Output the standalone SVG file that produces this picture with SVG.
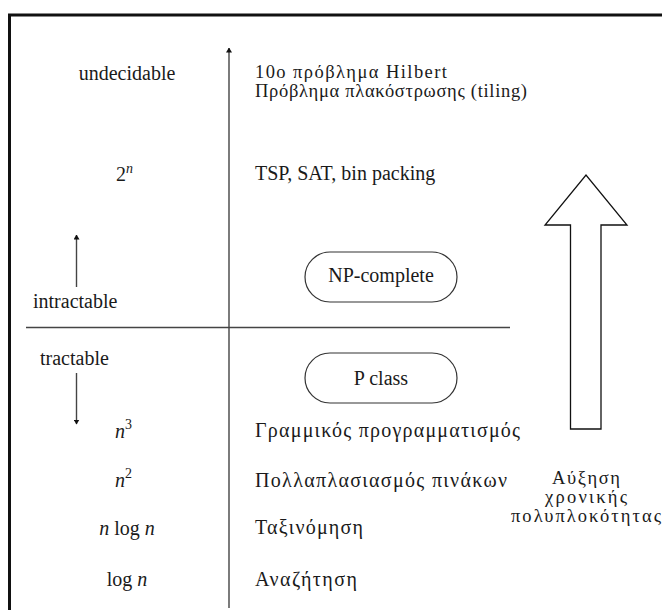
<svg xmlns="http://www.w3.org/2000/svg" width="662" height="610" viewBox="0 0 662 610" font-family="'Liberation Serif', 'DejaVu Serif', 'Times New Roman', serif">
  <style>
    text { font-family: "Liberation Serif", "DejaVu Serif", "Times New Roman", serif; font-size: 20px; fill: #1a1a1a; }
    .mid { text-anchor: middle; }
    .it { font-style: italic; }
    .sup { font-size: 14px; }
    .tight { font-size: 18.5px; }
    .axis { stroke: #444; stroke-width: 1.4; fill: none; }
    .pill { fill: #fff; stroke: #333; stroke-width: 1.2; }
  </style>
  <defs>
    <marker id="tip" viewBox="0 0 10 10" refX="9" refY="5" markerWidth="5" markerHeight="6" markerUnits="userSpaceOnUse" orient="auto" preserveAspectRatio="none">
      <path d="M0,0 L10,5 L0,10 Z" fill="#111"/>
    </marker>
  </defs>

  <rect width="662" height="610" fill="#fff"/>

  <!-- frame: top and left edges only -->
  <path d="M9.5,620 V15 H670" fill="none" stroke="#111" stroke-width="3"/>

  <!-- connectors: complexity axis, divider, tractability hints -->
  <g id="connectors">
    <line class="axis" x1="229" y1="608" x2="229" y2="48" marker-end="url(#tip)"/>
    <line class="axis" x1="26" y1="327.5" x2="510" y2="327.5"/>
    <line class="axis" x1="76.5" y1="287" x2="76.5" y2="235" marker-end="url(#tip)"/>
    <line class="axis" x1="76.5" y1="373" x2="76.5" y2="424" marker-end="url(#tip)"/>
  </g>

  <!-- growth arrow -->
  <g id="growth-arrow">
    <path d="M570.5,429 V225 H545 L586,175 L627,225 H601 V429 Z" fill="#fff" stroke="#111" stroke-width="1.3" stroke-linejoin="miter"/>
    <text class="mid tight" x="586" y="484" textLength="68" lengthAdjust="spacing">Αύξηση</text>
    <text class="mid tight" x="586" y="503" textLength="82" lengthAdjust="spacing">χρονικής</text>
    <text class="mid tight" x="586" y="522" textLength="150" lengthAdjust="spacing">πολυπλοκότητας</text>
  </g>

  <!-- complexity levels (left column) -->
  <g id="undecidable"><text class="mid" x="127" y="80">undecidable</text></g>
  <g id="exp"><text x="116" y="181">2<tspan class="it sup" dy="-8">n</tspan></text></g>
  <g id="intractable"><text x="33" y="308">intractable</text></g>
  <g id="tractable"><text x="40" y="365">tractable</text></g>
  <g id="cubic"><text x="115" y="438"><tspan class="it">n</tspan><tspan class="sup" dy="-9">3</tspan></text></g>
  <g id="quadratic"><text x="115" y="487"><tspan class="it">n</tspan><tspan class="sup" dy="-9">2</tspan></text></g>
  <g id="nlogn"><text class="mid" x="127" y="535"><tspan class="it">n</tspan> log <tspan class="it">n</tspan></text></g>
  <g id="logn"><text class="mid" x="127" y="586">log <tspan class="it">n</tspan></text></g>

  <!-- example problems (right column) -->
  <g id="undecidable-examples">
    <text class="tight" x="255" y="78" textLength="192" lengthAdjust="spacing">10ο πρόβλημα Hilbert</text>
    <text class="tight" x="255" y="97" textLength="272" lengthAdjust="spacing">Πρόβλημα πλακόστρωσης (tiling)</text>
  </g>
  <g id="exp-examples"><text x="255" y="180">TSP, SAT, bin packing</text></g>
  <g id="np-complete">
    <rect class="pill" x="305" y="252" width="152" height="50" rx="25"/>
    <text class="mid" x="381" y="282">NP-complete</text>
  </g>
  <g id="p-class">
    <rect class="pill" x="305" y="353" width="152" height="50" rx="25"/>
    <text class="mid" x="381" y="385">P class</text>
  </g>
  <g id="cubic-example"><text x="255" y="437" textLength="265" lengthAdjust="spacing">Γραμμικός προγραμματισμός</text></g>
  <g id="quadratic-example"><text x="255" y="487" textLength="252" lengthAdjust="spacing">Πολλαπλασιασμός πινάκων</text></g>
  <g id="nlogn-example"><text x="255" y="534" textLength="108" lengthAdjust="spacing">Ταξινόμηση</text></g>
  <g id="logn-example"><text x="255" y="586" textLength="102" lengthAdjust="spacing">Αναζήτηση</text></g>
</svg>
